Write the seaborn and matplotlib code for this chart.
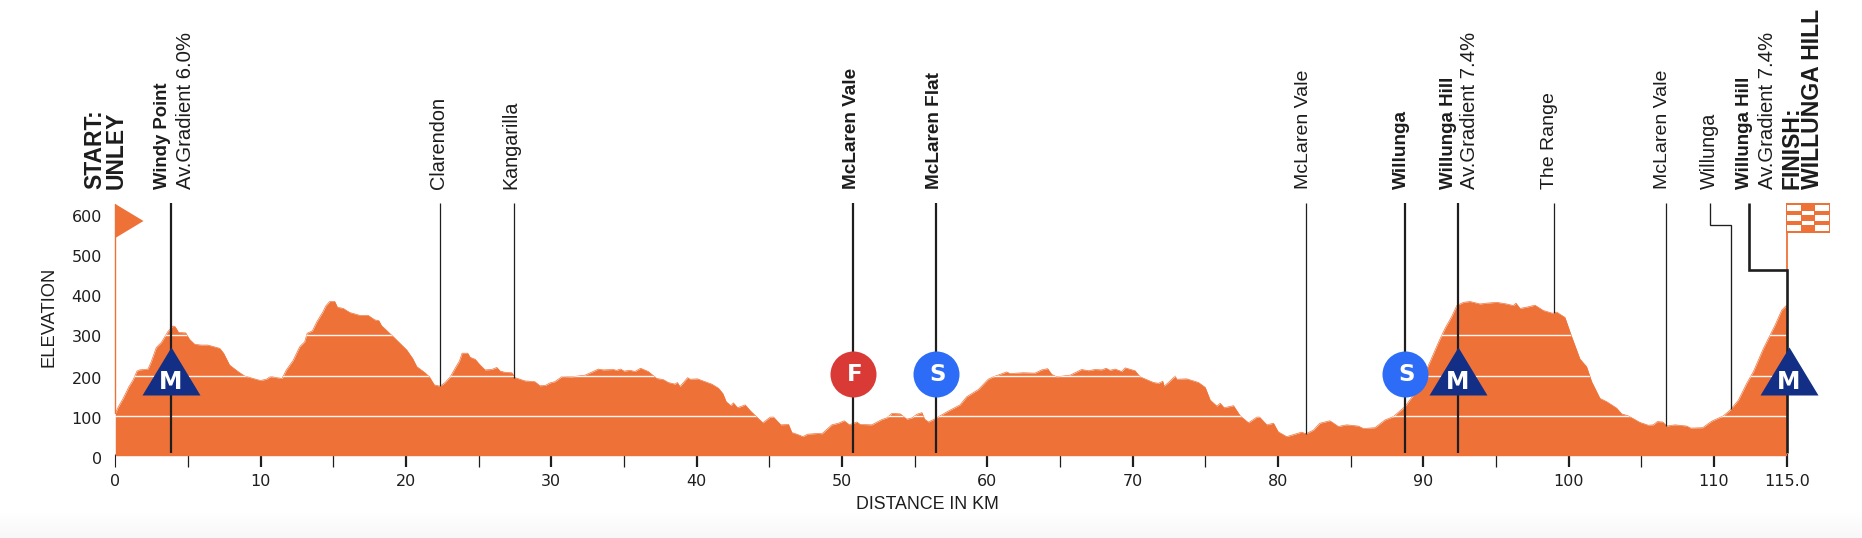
import numpy as np
import pandas as pd
import matplotlib
matplotlib.use("Agg")
import matplotlib.pyplot as plt
from matplotlib.path import Path
from matplotlib.patches import Rectangle, Polygon
from matplotlib.transforms import ScaledTranslation
import seaborn as sns

# ---- data ----
km = [0, .19, .54, .94, 1.22, 1.49, 1.68, 2.25, 2.47, 2.82, 3.16, 3.62, 3.96, 4.12, 4.35, 4.84, 5.11, 5.46, 5.91, 6.37,
      7.18, 7.45, 7.86, 8.44, 8.9, 9.47, 9.98, 10.39, 10.69, 11.08, 11.47, 11.77, 12.23, 12.69, 13.03, 13.2, 13.56, 13.88,
      14.29, 14.48, 14.75, 15.1, 15.28, 15.68, 16.13, 16.82, 17.39, 17.85, 18.13, 18.31, 19.11,
      20.05, 20.46, 20.74, 21.31, 21.61, 21.95, 22.35, 22.69, 23.03, 23.38, 23.68, 23.86, 24.25, 24.41, 24.76, 25.1, 25.44,
      25.9, 26.25, 26.48, 26.82, 27.28, 27.5, 28.18, 28.87, 29.21, 29.6, 29.9, 30.24, 30.75, 31.39, 32.31, 32.88, 33.23,
      33.57, 34.26, 34.49, 34.77, 35.0, 35.41, 35.75, 36.14, 36.67, 37.25, 37.71, 38.05, 38.51, 38.67, 38.85, 39.38, 39.54,
      40.05, 40.58, 41.04, 41.5, 41.8, 42.03, 42.35, 42.53, 42.81, 43.34, 43.68, 44.14, 44.55, 45.06, 45.29, 45.79, 46.32,
      46.55, 46.9, 47.31, 47.63, 48.39, 48.62, 49.3, 49.76, 50.15, 50.51, 51.02, 51.25, 52.05, 52.74, 53.08, 53.43, 54.0,
      54.46, 54.81, 55.15, 55.5, 55.68, 55.95, 56.41, 57.22, 58.12, 58.58, 59.39,
      60.06, 60.41, 60.87, 61.33, 61.56, 62.47, 63.28, 63.74, 64.15, 64.43, 64.77, 65.69, 66.49, 66.95, 67.41, 67.87, 68.17,
      68.44, 68.79, 69.25, 69.48, 70.16, 70.51, 71.43, 71.77, 72.07, 72.16, 72.46, 72.92, 73.03, 73.72, 74.53, 74.99,
      75.33, 75.79, 76.02, 76.29, 76.94, 77.4, 77.97, 78.54, 78.73, 79.23, 79.69,
      80.01, 80.59, 81.16, 81.62, 81.93, 82.43, 82.88, 83.57, 84.15, 84.72, 85.52, 85.87, 86.67, 87.36, 87.93, 88.74, 89.31,
      89.88, 90.46, 91.03, 91.49, 91.95, 92.3, 92.76, 93.21, 93.9, 94.36, 95.05, 95.73, 96.19, 96.37, 96.65, 97.22, 97.68,
      98.25, 98.9, 99.17, 99.74,
      100.2, 100.77, 101.23, 101.58, 102.15, 102.61, 103.3, 103.64, 104.1, 104.9, 105.48, 105.82, 106.1, 106.47, 106.74,
      107.32, 108.12, 108.39, 109.22, 109.84, 110.64, 111.1, 111.68, 112.25, 112.71, 113.4, 114.2, 114.66, 115.0]
elevation = [107, 122, 144, 173, 189, 211, 214, 216, 234, 269, 281, 308, 322, 320, 306, 305, 289, 277, 275, 275,
             267, 255, 226, 210, 199, 193, 188, 191, 198, 195, 193, 214, 237, 271, 283, 304, 310, 333,
             357, 371, 382, 382, 368, 365, 355, 348, 348, 337, 335, 323, 296,
             263, 242, 222, 207, 197, 177, 174, 183, 196, 218, 236, 255, 255, 245, 240, 226, 214,
             215, 220, 211, 208, 207, 195, 187, 185, 175, 176, 182, 185, 198, 197, 201, 210, 216,
             214, 215, 213, 216, 211, 213, 210, 218, 210, 193, 190, 183, 179, 183, 173, 195, 191,
             192, 185, 179, 169, 156, 136, 126, 133, 121, 128, 114, 98, 84, 98, 98, 79, 80,
             60, 56, 50, 56, 58, 57, 79, 83, 89, 79, 86, 80, 79, 92, 96, 107, 106,
             93, 96, 105, 109, 93, 86, 94, 111, 128, 148, 166,
             191, 197, 203, 209, 205, 207, 206, 214, 217, 203, 197, 201, 215, 212, 215, 214, 218,
             213, 216, 210, 219, 212, 197, 183, 181, 186, 174, 183, 199, 191, 192, 183, 171,
             140, 125, 132, 121, 126, 101, 84, 98, 98, 79, 83,
             62, 50, 56, 61, 57, 66, 83, 89, 75, 79, 76, 70, 72, 91, 99, 124, 152,
             189, 234, 281, 316, 345, 372, 380, 382, 376, 378, 380, 376, 372, 378, 365, 369, 373,
             360, 353, 356, 343,
             296, 241, 222, 185, 144, 136, 120, 106, 101, 85, 78, 79, 87, 86, 76,
             79, 76, 71, 72, 88, 101, 115, 140, 181, 210, 267, 324, 361, 373]

x_major = [0, 10, 20, 30, 40, 50, 60, 70, 80, 90, 100, 110, 115]
x_major_labels = ["0", "10", "20", "30", "40", "50", "60", "70", "80", "90", "100", "110", "115.0"]
x_minor = [5, 15, 25, 35, 45, 55, 65, 75, 85, 95, 105]
y_ticks = [0, 100, 200, 300, 400, 500, 600]

place_km = [3.83, 22.36, 27.45, 50.76, 56.47, 81.9, 88.74, 92.38, 98.97, 106.72]
place_end = [8.6, 174, 195, 8.6, 8.6, 57, 8.6, 8.6, 355, 76]
place_heavy = [True, False, False, True, True, False, True, True, False, False]

climb_km = [3.83, 92.38, 115.15]
sprint_km = [88.74, 56.47]
feed_km = [50.76]

# ---- layout helpers ----
W, H = 1862, 538
ORANGE = "#EE7238"
NAVY = "#122F85"
DARK = "#1E1E1E"
SANS = "Liberation Sans"
Y0_PX, Y_SCALE = 457.0, 0.407
def ey(px):
    return (Y0_PX - px) / Y_SCALE
def fx(x):
    return x / W
def fy(y):
    return 1 - y / H
def fpt(x, y):
    return (fx(x), fy(y))
PT = 0.72

sns.set_theme(style="white")
plt.rcParams["font.family"] = ["DejaVu Sans"]

fig = plt.figure(figsize=(W / 100, H / 100), dpi=100, facecolor="white")
grad = np.tile(np.linspace(1.0, 0.968, 30)[:, None], (1, W))
fig.figimage(grad, xo=0, yo=0, cmap="gray", vmin=0, vmax=1, origin="upper", zorder=-5)

L, R, T, B = 115.3, 1786.7, 203.0, 467.0
ax = fig.add_axes([fx(L), fy(B), (R - L) / W, (B - T) / H])
ax.patch.set_visible(False)
ax.set_xlim(0, 115)
ax.set_ylim(ey(B), ey(T))

df = pd.DataFrame({"km": km, "elevation": elevation})
base = ey(455.7)
poly = ax.fill_between(df["km"], df["elevation"], base, color=ORANGE, lw=0, zorder=1)
sns.lineplot(data=df, x="km", y="elevation", color=ORANGE, lw=0.5, ax=ax, zorder=1.1, errorbar=None)
ax.set_xlabel("")
ax.set_ylabel("")

for lev in [100, 200, 300]:
    ln, = ax.plot([0, 115], [lev, lev], color="white", lw=1.0, alpha=0.95, zorder=1.2)
    ln.set_clip_path(poly.get_paths()[0], ax.transData)

ax.plot([0, 0], [107, ey(204)], color=ORANGE, lw=1.0, zorder=1.3, clip_on=False)
fig.add_artist(Polygon([fpt(115.3, 204), fpt(143.5, 221), fpt(115.3, 238)], closed=True, fc=ORANGE, ec="none"))

ax.plot([115, 115], [ey(233), ey(270)], color=ORANGE, lw=1.3, zorder=1.3, clip_on=False)
fig.add_artist(Rectangle(fpt(1786, 233), fx(44), 30 / H, fc=ORANGE, ec="none"))
cols = [(1787, 14), (1802, 12), (1815, 14)]
rows = [(205, 6), (211, 4), (215, 6), (221, 4), (225, 6)]
for r, (ry, rh) in enumerate(rows):
    for c, (cx, cw) in enumerate(cols):
        if (r + c) % 2 == 0:
            fig.add_artist(Rectangle(fpt(cx, ry + rh), fx(cw), rh / H, fc="white", ec="none"))

top = ey(203.5)
for k, e, heavy in zip(place_km, place_end, place_heavy):
    ax.plot([k, k], [e, top], color=DARK, lw=1.6 if heavy else 0.9, zorder=3, solid_capstyle="butt")
ax.plot([109.74, 109.74, 111.15, 111.15], [top, ey(225.3), ey(225.3), 117], color=DARK, lw=0.95, zorder=3,
        solid_joinstyle="miter", solid_capstyle="butt")
ax.plot([112.38, 112.38, 115.02, 115.02], [top, ey(270), ey(270), 8.6], color=DARK, lw=1.9, zorder=3,
        solid_joinstyle="miter", solid_capstyle="butt", clip_on=False)

tri = Path([(-29, -24), (29, -24), (0, 24), (-29, -24)], closed=True)
tri_size = (58 * PT) ** 2
sns.scatterplot(x=climb_km, y=[ey(371.3)] * 3, marker=tri, s=tri_size, color=NAVY, linewidth=0, ax=ax, zorder=4, clip_on=False)
circ = (46 * PT) ** 2
sns.scatterplot(x=sprint_km, y=[ey(374)] * 2, marker="o", s=circ, color="#2C6CF6", linewidth=0, ax=ax, zorder=4)
sns.scatterplot(x=feed_km, y=[ey(374)], marker="o", s=circ, color="#DA3A36", linewidth=0, ax=ax, zorder=4)
for k in climb_km:
    ax.text(k, ey(382), "M", color="white", fontsize=17, fontweight="bold", ha="center", va="center", zorder=5,
            family="DejaVu Sans", clip_on=False)
for k, s in [(sprint_km[0], "S"), (sprint_km[1], "S"), (feed_km[0], "F")]:
    ax.text(k + 0.1, ey(375), s, color="white", fontsize=16.5, fontweight="bold", ha="center", va="center", zorder=5,
            family="DejaVu Sans")

labels = [
    (0, -20, "START:", "bold", 16.5), (0, 0.4, "UNLEY", "bold", 16.5),
    (3.83, -8, "Windy Point", "bold", 13.3), (3.83, 15, "Av.Gradient 6.0%", "normal", 14.6),
    (22.36, -1.6, "Clarendon", "normal", 14.3), (27.45, -3.3, "Kangarilla", "normal", 14.2),
    (50.76, -1.2, "McLaren Vale", "bold", 13.7), (56.47, -1.7, "McLaren Flat", "bold", 13.7),
    (81.9, -2, "McLaren Vale", "normal", 14), (88.74, -4, "Willunga", "bold", 13.7),
    (92.38, -9.6, "Willunga Hill", "bold", 13.5), (92.38, 12, "Av.Gradient 7.4%", "normal", 14.6),
    (98.97, -4.7, "The Range", "normal", 14), (106.72, -3.5, "McLaren Vale", "normal", 14),
    (109.74, -1, "Willunga", "normal", 14.2),
    (112.38, -4, "Willunga Hill", "bold", 13.5), (112.38, 18.8, "Av.Gradient 7.4%", "normal", 14.6),
    (115, 5.5, "FINISH:", "bold", 16.5), (115, 26, "WILLUNGA HILL", "bold", 16.6),
]
for k, dx, s, w, fs in labels:
    ax.annotate(s, xy=(k, 1), xycoords=ax.get_xaxis_transform(), xytext=(dx, 14.3), textcoords="offset pixels",
                rotation=90, ha="center", va="bottom", fontweight=w, fontsize=fs, family=SANS, color="#1c1c1c",
                annotation_clip=False)

for s in ax.spines.values():
    s.set_visible(False)
ax.set_xticks(x_major, x_major_labels)
ax.set_xticks(x_minor, minor=True)
ax.set_yticks(y_ticks)
ax.tick_params(axis="x", which="major", direction="in", length=13 * PT, width=1.6, color=DARK, bottom=True,
               labelsize=11.5, labelcolor=DARK, pad=5)
ax.tick_params(axis="x", which="minor", direction="in", length=13 * PT, width=0.9, color=DARK, bottom=True)
ax.tick_params(axis="y", length=0, labelsize=11.5, labelcolor=DARK, pad=9.5)
ax.xaxis.get_major_ticks()[0].tick1line.set_markeredgewidth(0.8)
# nudge the elevation labels to where the reference has them (pixels downward)
for lab, dy in zip(ax.get_yticklabels(), [0.7, 1.4, 2.7, 1.4, 1.5, 2.2, 2.9]):
    lab.set_transform(lab.get_transform() + ScaledTranslation(0, -dy / 100, fig.dpi_scale_trans))
fig.text(fx(927), fy(504.5), "DISTANCE IN KM", ha="center", va="center", fontsize=12.8, family=SANS, color=DARK)
fig.text(fx(49.2), fy(317.3), "ELEVATION", ha="center", va="center", rotation=90, fontsize=13.2, family=SANS, color=DARK)

fig.savefig("out.png", dpi=100)
